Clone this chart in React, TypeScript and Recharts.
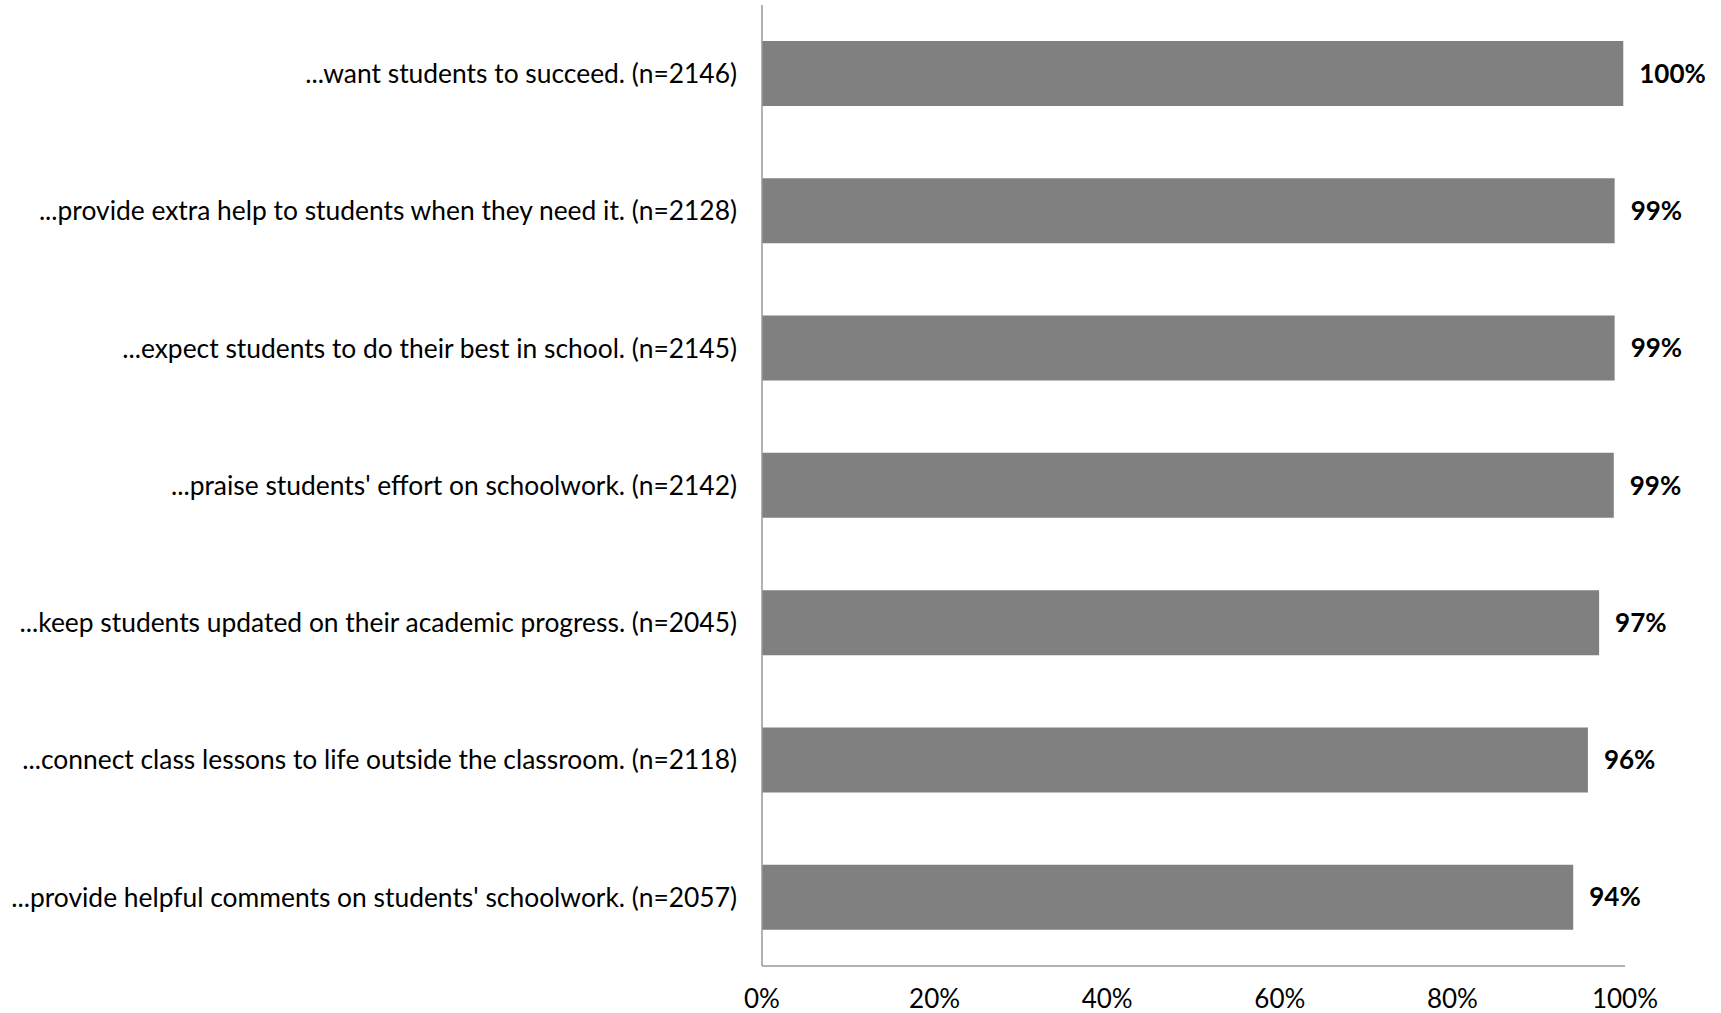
import { BarChart, Bar, XAxis, YAxis, LabelList } from 'recharts';

const statements = [
  '...want students to succeed. (n=2146)',
  '...provide extra help to students when they need it. (n=2128)',
  '...expect students to do their best in school. (n=2145)',
  "...praise students' effort on schoolwork. (n=2142)",
  '...keep students updated on their academic progress. (n=2045)',
  '...connect class lessons to life outside the classroom. (n=2118)',
  "...provide helpful comments on students' schoolwork. (n=2057)",
];

const agreePct = [99.8, 98.8, 98.8, 98.7, 97.0, 95.7, 94.0];

const xTicks = [0, 20, 40, 60, 80, 100];

const data = statements.map((label, i) => ({ label, value: agreePct[i] }));

const FONT = 'Lato, "Open Sans", sans-serif';

export default function App() {
  return (
    <div style={{ position: 'absolute', left: 0, top: 0, width: 1721, height: 1013, background: '#fff', fontFamily: FONT }}>
      <BarChart
        width={1721}
        height={1013}
        data={data}
        layout="vertical"
        margin={{ top: 5, right: 96, left: 0, bottom: 0 }}
        barCategoryGap={0}
      >
        <XAxis
          type="number"
          domain={[0, 100]}
          ticks={xTicks}
          tickFormatter={(v) => `${v}%`}
          height={47}
          axisLine={{ stroke: '#999', strokeWidth: 1.5 }}
          tickLine={false}
          tickSize={0}
          tickMargin={24}
          tick={{ fill: '#000', fontSize: 26, fontFamily: FONT }}
          interval={0}
        />
        <YAxis
          type="category"
          dataKey="label"
          width={762}
          axisLine={{ stroke: '#999', strokeWidth: 1.5 }}
          tickLine={false}
          tickSize={0}
          tickMargin={25}
          tick={{ fill: '#000', fontSize: 26.4, fontFamily: FONT }}
          interval={0}
        />
        <Bar dataKey="value" fill="#808080" barSize={65} isAnimationActive={false}>
          <LabelList
            dataKey="value"
            position="right"
            offset={16}
            formatter={(v: number) => `${Math.round(v)}%`}
            style={{ fill: '#000', fontSize: 26, fontWeight: 700, fontFamily: FONT }}
          />
        </Bar>
      </BarChart>
    </div>
  );
}
